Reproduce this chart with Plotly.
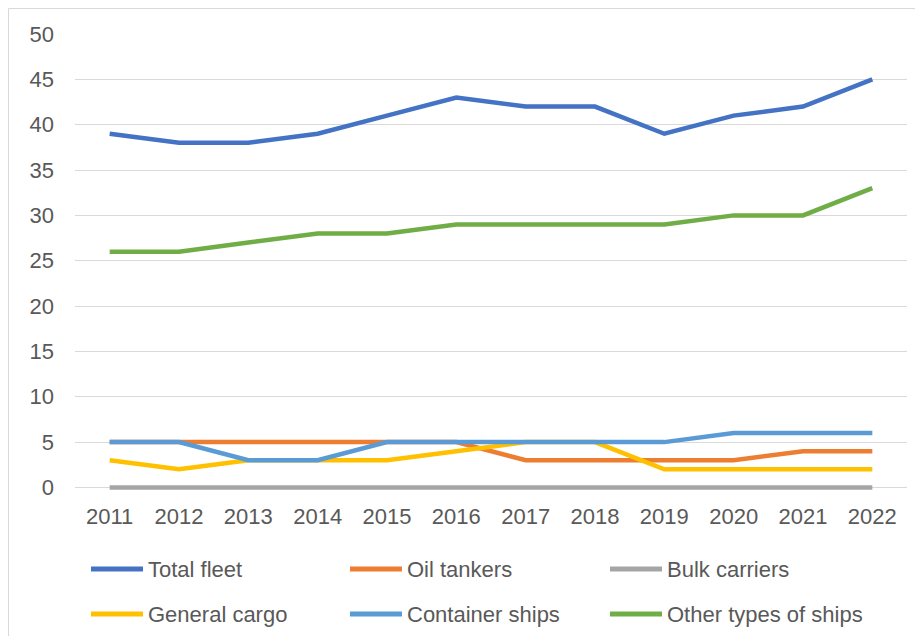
import plotly.graph_objects as go

years = ["2011", "2012", "2013", "2014", "2015", "2016", "2017", "2018", "2019", "2020", "2021", "2022"]
total_fleet = [39, 38, 38, 39, 41, 43, 42, 42, 39, 41, 42, 45]
oil_tankers = [5, 5, 5, 5, 5, 5, 3, 3, 3, 3, 4, 4]
bulk_carriers = [0, 0, 0, 0, 0, 0, 0, 0, 0, 0, 0, 0]
general_cargo = [3, 2, 3, 3, 3, 4, 5, 5, 2, 2, 2, 2]
container_ships = [5, 5, 3, 3, 5, 5, 5, 5, 5, 6, 6, 6]
other_ships = [26, 26, 27, 28, 28, 29, 29, 29, 29, 30, 30, 33]
y_ticks = [0, 5, 10, 15, 20, 25, 30, 35, 40, 45, 50]

series_names = ["Total fleet", "Oil tankers", "Bulk carriers",
                "General cargo", "Container ships", "Other types of ships"]
series_values = [total_fleet, oil_tankers, bulk_carriers,
                 general_cargo, container_ships, other_ships]
series_colors = ["#4472C4", "#ED7D31", "#A5A5A5", "#FFC000", "#5B9BD5", "#70AD47"]

# page body has an 8px margin; figure sized to fill the rest of the window
OFF = 8
W, H = 923 - 2 * OFF, 644 - 2 * OFF
L, R, T, B = 75 - OFF, 8, 34 - OFF, 144
PW, PH = W - L - R, H - T - B

def px_x(px):
    return (px - OFF - L) / PW

def px_y(py):
    return (H - B - (py - OFF)) / PH

fig = go.Figure()
for name, vals, col in zip(series_names, series_values, series_colors):
    fig.add_trace(go.Scatter(x=list(range(len(years))), y=vals, name=name, mode="lines",
                             line=dict(color=col, width=4.5), showlegend=False))

fig.update_layout(
    width=W, height=H,
    margin=dict(l=L, r=R, t=T, b=B, autoexpand=False),
    paper_bgcolor="white", plot_bgcolor="white",
    font=dict(family="Liberation Sans, Arial, sans-serif", size=22, color="#595959"),
    showlegend=False,
)
fig.update_xaxes(range=[-0.5, 11.5], tickmode="array", tickvals=list(range(len(years))),
                 ticktext=years, showgrid=False, zeroline=False, showline=False,
                 ticks="", ticklabelstandoff=9, fixedrange=True)
fig.update_yaxes(range=[-0.5, 50], tickmode="array", tickvals=y_ticks, showgrid=True,
                 gridcolor="#D9D9D9", gridwidth=1, zeroline=False, showline=False,
                 ticks="", ticklabelstandoff=20, fixedrange=True)

# chart border (right and bottom edges lie outside the visible area, as in the reference)
fig.add_shape(type="rect", xref="paper", yref="paper",
              x0=px_x(8.5), x1=px_x(940), y0=px_y(660), y1=px_y(8.5),
              line=dict(color="#D9D9D9", width=1), fillcolor="rgba(0,0,0,0)", layer="below")

# legend (3 columns x 2 rows)
col_x = [89, 348, 608]
row_y = [569, 614]
for i, (name, col) in enumerate(zip(series_names, series_colors)):
    cx = col_x[i % 3]
    ry = row_y[i // 3]
    fig.add_shape(type="line", xref="paper", yref="paper",
                  x0=px_x(cx + 2), x1=px_x(cx + 54), y0=px_y(ry), y1=px_y(ry),
                  line=dict(color=col, width=5))
    fig.add_annotation(xref="paper", yref="paper", x=px_x(cx + 57), y=px_y(ry),
                       text=name, showarrow=False, xanchor="left", yanchor="middle",
                       font=dict(size=22, color="#595959"))

fig.write_html("out.html")
